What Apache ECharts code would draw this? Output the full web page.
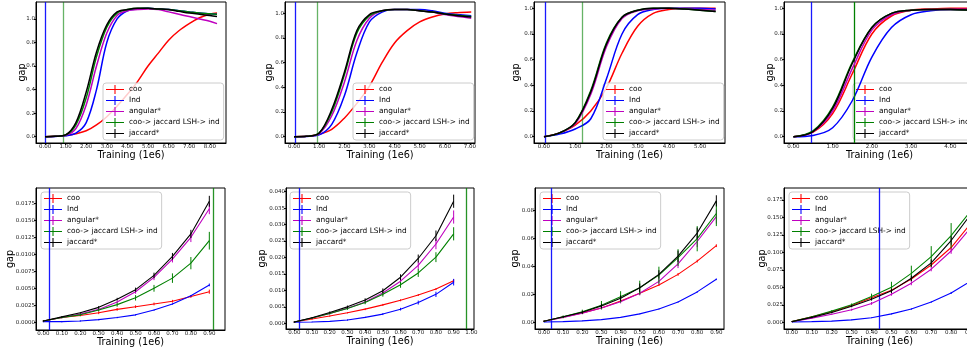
<!DOCTYPE html>
<html>
<head>
<meta charset="utf-8">
<script src="https://cdn.jsdelivr.net/npm/echarts@6/dist/echarts.min.js"></script>
<style>
  html, body { margin: 0; padding: 0; background: #fff; }
  #chart { width: 967px; height: 349px; }
</style>
</head>
<body>
<div id="chart"></div>
<script>
// ── series names / colours (matplotlib r, b, m, g, k) ──
const NAMES  = ['coo', 'Ind', 'angular*', 'coo-> jaccard LSH-> ind', 'jaccard*'];
const COLORS = ['#ff0000', '#0000ff', '#bf00bf', '#008000', '#000000'];

// ── top row: full training curves ──
const top1X   = [0, 0.5, 1, 1.5, 2, 2.5, 3, 3.5, 4, 4.5, 5, 5.5, 6, 6.5, 7, 7.5, 8, 8.35];
const top1Coo = [0, 0.004, 0.01, 0.025, 0.05, 0.1, 0.17, 0.26, 0.36, 0.47, 0.6, 0.71, 0.82, 0.9, 0.96, 1.01, 1.04, 1.05];
const top1Ind = [0, 0.002, 0.008, 0.03, 0.12, 0.4, 0.8, 1.0, 1.07, 1.085, 1.09, 1.085, 1.08, 1.07, 1.06, 1.05, 1.045, 1.04];
const top1Ang = [0, 0.003, 0.012, 0.07, 0.27, 0.6, 0.88, 1.03, 1.07, 1.08, 1.085, 1.08, 1.06, 1.04, 1.02, 1.0, 0.98, 0.96];
const top1Lsh = [0, 0.003, 0.014, 0.1, 0.33, 0.68, 0.93, 1.05, 1.08, 1.09, 1.09, 1.085, 1.08, 1.07, 1.06, 1.05, 1.045, 1.04];
const top1Jac = [0, 0.003, 0.016, 0.12, 0.38, 0.72, 0.95, 1.06, 1.08, 1.09, 1.09, 1.085, 1.08, 1.065, 1.05, 1.04, 1.03, 1.02];

const top2X   = [0, 0.5, 1, 1.5, 2, 2.5, 3, 3.5, 4, 4.5, 5, 5.5, 6, 6.5, 7.05];
const top2Coo = [0, 0.003, 0.02, 0.06, 0.15, 0.27, 0.41, 0.6, 0.76, 0.86, 0.93, 0.97, 0.995, 1.005, 1.01];
const top2Ind = [0, 0.002, 0.015, 0.1, 0.33, 0.68, 0.93, 1.01, 1.03, 1.03, 1.03, 1.02, 1.0, 0.99, 0.98];
const top2Ang = [0, 0.003, 0.025, 0.17, 0.44, 0.78, 0.96, 1.02, 1.03, 1.03, 1.02, 1.01, 0.99, 0.975, 0.96];
const top2Lsh = [0, 0.003, 0.03, 0.2, 0.5, 0.84, 0.98, 1.02, 1.03, 1.03, 1.02, 1.01, 0.995, 0.985, 0.975];
const top2Jac = [0, 0.003, 0.03, 0.22, 0.52, 0.86, 0.99, 1.02, 1.03, 1.03, 1.02, 1.01, 0.995, 0.98, 0.97];

const top3X   = [0, 0.5, 1, 1.5, 2, 2.5, 3, 3.5, 4, 4.5, 5, 5.5];
const top3Coo = [0, 0.03, 0.09, 0.2, 0.38, 0.65, 0.86, 0.96, 0.99, 1.0, 1.0, 1.0];
const top3Ind = [0, 0.02, 0.06, 0.14, 0.45, 0.8, 0.95, 0.99, 1.0, 1.0, 1.0, 0.995];
const top3Ang = [0, 0.03, 0.1, 0.33, 0.7, 0.92, 0.98, 0.995, 1.0, 0.995, 0.99, 0.985];
const top3Lsh = [0, 0.03, 0.11, 0.36, 0.73, 0.93, 0.985, 1.0, 1.0, 0.995, 0.985, 0.975];
const top3Jac = [0, 0.03, 0.11, 0.35, 0.72, 0.93, 0.985, 1.0, 1.0, 0.995, 0.985, 0.975];

const top4X   = [0, 0.5, 1, 1.5, 2, 2.5, 3, 3.5, 4, 4.5];
const top4Coo = [0, 0.035, 0.18, 0.49, 0.8, 0.94, 0.985, 0.995, 1.0, 1.0];
const top4Ind = [0, 0.01, 0.07, 0.28, 0.62, 0.85, 0.95, 0.98, 0.99, 0.99];
const top4Ang = [0, 0.04, 0.2, 0.53, 0.83, 0.95, 0.985, 0.99, 0.99, 0.99];
const top4Lsh = [0, 0.045, 0.23, 0.58, 0.85, 0.96, 0.985, 0.99, 0.99, 0.985];
const top4Jac = [0, 0.04, 0.22, 0.57, 0.85, 0.96, 0.985, 0.99, 0.99, 0.985];

// ── bottom row: early training, with error bars ──
const botX = [0, 0.1, 0.2, 0.3, 0.4, 0.5, 0.6, 0.7, 0.8, 0.9];

const bot1Coo = [0.0002, 0.0007, 0.001, 0.0014, 0.0019, 0.0023, 0.0027, 0.0031, 0.0038, 0.0045];
const bot1Ind = [0.0001, 0.0001, 0.0002, 0.0004, 0.0007, 0.0011, 0.0018, 0.0027, 0.0039, 0.0055];
const bot1Ang = [0.0002, 0.0007, 0.0012, 0.0019, 0.003, 0.0045, 0.0066, 0.0093, 0.0125, 0.0167];
const bot1Lsh = [0.0002, 0.0007, 0.0011, 0.0018, 0.0026, 0.0036, 0.005, 0.0065, 0.0087, 0.012];
const bot1Jac = [0.0002, 0.0008, 0.0014, 0.0022, 0.0034, 0.0048, 0.0069, 0.0097, 0.013, 0.0178];
const bot1CooErr = [0.0001, 0.0001, 0.0001, 0.0002, 0.0002, 0.0002, 0.0002, 0.0002, 0.0002, 0.0003];
const bot1IndErr = [0.0001, 0.0001, 0.0001, 0.0001, 0.0001, 0.0001, 0.0001, 0.0001, 0.0001, 0.0002];
const bot1AngErr = [0.0001, 0.0001, 0.0001, 0.0002, 0.0002, 0.0003, 0.0004, 0.0005, 0.0007, 0.0008];
const bot1LshErr = [0.0001, 0.0001, 0.0002, 0.0002, 0.0003, 0.0004, 0.0005, 0.0007, 0.0009, 0.0013];
const bot1JacErr = [0.0001, 0.0001, 0.0001, 0.0002, 0.0002, 0.0003, 0.0004, 0.0005, 0.0006, 0.0008];

const bot2Coo = [0.0004, 0.0013, 0.0022, 0.0032, 0.0043, 0.0056, 0.007, 0.0086, 0.0104, 0.0129];
const bot2Ind = [0.0003, 0.0004, 0.0006, 0.001, 0.0018, 0.0028, 0.0043, 0.0063, 0.0088, 0.0125];
const bot2Ang = [0.0004, 0.0016, 0.003, 0.0046, 0.0065, 0.0092, 0.0128, 0.0176, 0.0241, 0.0323];
const bot2Lsh = [0.0004, 0.0016, 0.003, 0.0045, 0.0063, 0.0088, 0.0117, 0.0153, 0.0201, 0.0272];
const bot2Jac = [0.0004, 0.0017, 0.0033, 0.005, 0.0071, 0.0099, 0.014, 0.0197, 0.0266, 0.0371];
const bot2CooErr = [0.0002, 0.0002, 0.0002, 0.0002, 0.0003, 0.0003, 0.0003, 0.0003, 0.0003, 0.0005];
const bot2IndErr = [0.0001, 0.0001, 0.0001, 0.0002, 0.0002, 0.0003, 0.0004, 0.0006, 0.0008, 0.001];
const bot2AngErr = [0.0002, 0.0002, 0.0003, 0.0004, 0.0005, 0.0007, 0.0009, 0.0012, 0.0016, 0.002];
const bot2LshErr = [0.0002, 0.0002, 0.0003, 0.0004, 0.0005, 0.0007, 0.0009, 0.0012, 0.0015, 0.002];
const bot2JacErr = [0.0002, 0.0002, 0.0003, 0.0004, 0.0005, 0.0007, 0.0009, 0.0012, 0.0016, 0.002];

const bot3Coo = [0.001, 0.004, 0.007, 0.0105, 0.0155, 0.021, 0.027, 0.0345, 0.044, 0.055];
const bot3Ind = [0.0005, 0.0008, 0.0013, 0.0022, 0.0038, 0.0063, 0.0098, 0.0148, 0.022, 0.031];
const bot3Ang = [0.001, 0.0038, 0.0068, 0.0105, 0.015, 0.021, 0.0295, 0.042, 0.058, 0.0758];
const bot3Lsh = [0.001, 0.0042, 0.0078, 0.0125, 0.0185, 0.025, 0.034, 0.0465, 0.06, 0.078];
const bot3Jac = [0.001, 0.0042, 0.0075, 0.012, 0.0175, 0.025, 0.0345, 0.0475, 0.064, 0.087];
const bot3CooErr = [0.0005, 0.0005, 0.0005, 0.0006, 0.0007, 0.0008, 0.0008, 0.001, 0.001, 0.001];
const bot3IndErr = [0.0002, 0.0002, 0.0002, 0.0002, 0.0003, 0.0003, 0.0004, 0.0004, 0.0005, 0.0006];
const bot3AngErr = [0.0005, 0.0005, 0.0008, 0.001, 0.0012, 0.0015, 0.002, 0.003, 0.004, 0.005];
const bot3LshErr = [0.0005, 0.001, 0.0015, 0.003, 0.004, 0.005, 0.006, 0.006, 0.009, 0.009];
const bot3JacErr = [0.0005, 0.0005, 0.001, 0.0015, 0.002, 0.003, 0.003, 0.004, 0.004, 0.004];

const bot4Coo = [0.001, 0.008, 0.015, 0.024, 0.035, 0.046, 0.062, 0.082, 0.107, 0.142];
const bot4Ind = [0.0005, 0.001, 0.0017, 0.0035, 0.0065, 0.012, 0.019, 0.029, 0.042, 0.059];
const bot4Ang = [0.0008, 0.006, 0.0115, 0.018, 0.027, 0.04, 0.056, 0.076, 0.102, 0.136];
const bot4Lsh = [0.001, 0.008, 0.016, 0.025, 0.037, 0.05, 0.07, 0.094, 0.124, 0.16];
const bot4Jac = [0.001, 0.007, 0.014, 0.023, 0.033, 0.045, 0.063, 0.085, 0.117, 0.155];
const bot4CooErr = [0.0005, 0.001, 0.001, 0.0015, 0.002, 0.002, 0.003, 0.003, 0.004, 0.005];
const bot4IndErr = [0.0003, 0.0003, 0.0003, 0.0005, 0.0005, 0.0008, 0.001, 0.001, 0.0015, 0.002];
const bot4AngErr = [0.0005, 0.001, 0.001, 0.0015, 0.002, 0.002, 0.003, 0.003, 0.004, 0.005];
const bot4LshErr = [0.0005, 0.001, 0.0015, 0.002, 0.004, 0.008, 0.011, 0.015, 0.018, 0.022];
const bot4JacErr = [0.0005, 0.001, 0.001, 0.0015, 0.002, 0.003, 0.004, 0.005, 0.006, 0.008];

// vertical marker lines (blue = Ind, green = LSH), one per panel
const indCut = [0.02, 0.05, 0.04, 0.45, 0.033, 0.028, 0.035, 0.44];
const lshCut = [0.89, 0.94, 1.21, 1.56, 0.918, 0.966, null, null];

// ── tick labels ──
const top1XTicks = [0, 1, 2, 3, 4, 5, 6, 7, 8];
const top2XTicks = [0, 1, 2, 3, 4, 5, 6, 7];
const top3XTicks = [0, 1, 2, 3, 4, 5];
const top4XTicks = [0, 1, 2, 3, 4];
const topYTicks  = [0, 0.2, 0.4, 0.6, 0.8, 1.0];
const bot1XTicks = [0, 0.1, 0.2, 0.3, 0.4, 0.5, 0.6, 0.7, 0.8, 0.9];
const bot2XTicks = [0, 0.1, 0.2, 0.3, 0.4, 0.5, 0.6, 0.7, 0.8, 0.9, 1.0];
const bot1YTicks = [0, 0.0025, 0.005, 0.0075, 0.01, 0.0125, 0.015, 0.0175];
const bot2YTicks = [0, 0.005, 0.01, 0.015, 0.02, 0.025, 0.03, 0.035, 0.04];
const bot3YTicks = [0, 0.02, 0.04, 0.06, 0.08];
const bot4YTicks = [0, 0.025, 0.05, 0.075, 0.1, 0.125, 0.15, 0.175];

const FONT = 'DejaVu Sans';
const PLUS = 'path://M0,4.4H20V5.6H0Z M9.4,0H10.6V10H9.4Z';

// layout of each subplot: rect = [left, top, width, height]
const panels = [
  { x: top1X, ys: [top1Coo, top1Ind, top1Ang, top1Lsh, top1Jac], xr: [-0.437, 8.786], yr: [-0.0535, 1.144],
    xt: top1XTicks, yt: topYTicks, xdp: 2, ydp: 1, rect: [36, 2, 190, 141], yGap: 9, leg: [103, 83], gOp: 0.6 },
  { x: top2X, ys: [top2Coo, top2Ind, top2Ang, top2Lsh, top2Jac], xr: [-0.36, 7.2], yr: [-0.051, 1.0916],
    xt: top2XTicks, yt: topYTicks, xdp: 2, ydp: 1, rect: [285, 2, 190, 141], yGap: 11, leg: [353, 83], gOp: 0.6 },
  { x: top3X, ys: [top3Coo, top3Ind, top3Ang, top3Lsh, top3Jac], xr: [-0.32, 5.8], yr: [-0.049, 1.049],
    xt: top3XTicks, yt: topYTicks, xdp: 2, ydp: 1, rect: [534, 2, 191, 141], yGap: 13, leg: [603, 83], gOp: 0.6 },
  { x: top4X, ys: [top4Coo, top4Ind, top4Ang, top4Lsh, top4Jac], xr: [-0.24, 4.63], yr: [-0.049, 1.049],
    xt: top4XTicks, yt: topYTicks, xdp: 2, ydp: 1, rect: [784, 2, 191, 141], yGap: 9, leg: [853, 83], gOp: 1 },
  { x: botX, ys: [bot1Coo, bot1Ind, bot1Ang, bot1Lsh, bot1Jac], err: [bot1CooErr, bot1IndErr, bot1AngErr, bot1LshErr, bot1JacErr],
    xr: [-0.04, 0.985], yr: [-0.00113, 0.01975], xt: bot1XTicks, yt: bot1YTicks, xdp: 2, ydp: 4,
    rect: [36, 188, 189, 142], yGap: 21, leg: [41, 192], gOp: 0.85 },
  { x: botX, ys: [bot2Coo, bot2Ind, bot2Ang, bot2Lsh, bot2Jac], err: [bot2CooErr, bot2IndErr, bot2AngErr, bot2LshErr, bot2JacErr],
    xr: [-0.047, 1.015], yr: [-0.00173, 0.04112], xt: bot2XTicks, yt: bot2YTicks, xdp: 2, ydp: 3,
    rect: [286, 188, 188, 141], yGap: 19, leg: [290, 192], gOp: 0.85 },
  { x: botX, ys: [bot3Coo, bot3Ind, bot3Ang, bot3Lsh, bot3Jac], err: [bot3CooErr, bot3IndErr, bot3AngErr, bot3LshErr, bot3JacErr],
    xr: [-0.047, 0.94], yr: [-0.0045, 0.0962], xt: bot1XTicks, yt: bot3YTicks, xdp: 2, ydp: 2,
    rect: [535, 188, 189, 141], yGap: 15, leg: [540, 192], gOp: 0.85 },
  { x: botX, ys: [bot4Coo, bot4Ind, bot4Ang, bot4Lsh, bot4Jac], err: [bot4CooErr, bot4IndErr, bot4AngErr, bot4LshErr, bot4JacErr],
    xr: [-0.04, 0.92], yr: [-0.0096, 0.1922], xt: bot1XTicks, yt: bot4YTicks, xdp: 2, ydp: 3,
    rect: [784, 188, 191, 141], yGap: 17, leg: [789, 192], gOp: 0.85 },
];

const grid = [], xAxis = [], yAxis = [], series = [], legend = [];

panels.forEach((p, i) => {
  const isTop = !p.err;
  grid.push({
    left: p.rect[0], top: p.rect[1], width: p.rect[2], height: p.rect[3],
    show: true, borderColor: '#000', borderWidth: 1, backgroundColor: '#fff',
    containLabel: false, outerBoundsMode: 'none',
  });
  const axisCommon = {
    gridIndex: i, type: 'value',
    axisLine: { show: true, onZero: false, lineStyle: { color: '#000', width: 1 } },
    splitLine: { show: false },
    nameLocation: 'middle',
    nameMoveOverlap: false,
    nameTextStyle: { fontSize: 9.7, color: '#000', fontFamily: FONT },
  };
  xAxis.push({
    ...axisCommon,
    min: p.xr[0], max: p.xr[1],
    axisTick: { show: true, length: 2, customValues: p.xt, lineStyle: { color: '#000' } },
    axisLabel: { customValues: p.xt, formatter: v => v.toFixed(p.xdp), fontSize: 5.5, color: '#222', margin: 1, fontFamily: FONT },
    name: 'Training (1e6)', nameGap: 7,
  });
  yAxis.push({
    ...axisCommon,
    min: p.yr[0], max: p.yr[1],
    axisTick: { show: true, length: 2, customValues: p.yt, lineStyle: { color: '#000' } },
    axisLabel: { customValues: p.yt, formatter: v => v.toFixed(p.ydp), fontSize: 5.5, color: '#222', margin: 1, fontFamily: FONT },
    name: 'gap', nameGap: p.yGap,
  });

  NAMES.forEach((name, k) => {
    const color = COLORS[k];
    const s = {
      type: 'line', name, xAxisIndex: i, yAxisIndex: i,
      data: p.x.map((xv, j) => [xv, p.ys[k][j]]),
      symbol: 'none', showSymbol: false,
      smooth: isTop ? 0.35 : false,
      lineStyle: { color, width: isTop ? 1.5 : 1.1 },
      itemStyle: { color },
      z: 3 + k,
    };
    // vertical markers ride on the Ind / LSH series
    const cut = k === 1 ? indCut[i] : k === 3 ? lshCut[i] : null;
    if (cut != null) {
      s.markLine = {
        silent: true, symbol: ['none', 'none'], label: { show: false },
        lineStyle: { color, width: 1.3, type: 'solid', opacity: k === 3 ? p.gOp : 0.9 },
        data: [{ xAxis: cut }],
      };
    }
    series.push(s);

    if (!isTop) {
      series.push({
        type: 'custom', name, xAxisIndex: i, yAxisIndex: i, clip: true, z: 3 + k,
        itemStyle: { color },
        data: p.x.map((xv, j) => [xv, p.ys[k][j], p.err[k][j]]),
        renderItem: (params, api) => {
          const a = api.coord([api.value(0), api.value(1) - api.value(2)]);
          const b = api.coord([api.value(0), api.value(1) + api.value(2)]);
          return {
            type: 'line',
            shape: { x1: a[0], y1: a[1], x2: b[0], y2: b[1] },
            style: { stroke: color, lineWidth: 1 },
          };
        },
      });
    }
  });

  legend.push({
    orient: 'vertical', left: p.leg[0], top: p.leg[1],
    itemWidth: 18, itemHeight: 9, itemGap: 2,
    padding: [2, 4, 2, 3],
    backgroundColor: 'rgba(255,255,255,0.8)', borderColor: '#cccccc', borderWidth: 1, borderRadius: 3,
    textStyle: { fontSize: 7.4, color: '#000', fontFamily: FONT },
    selectedMode: false,
    data: NAMES.map(n => ({ name: n, icon: PLUS })),
  });
});

const chart = echarts.init(document.getElementById('chart'), null, { renderer: 'canvas' });
chart.setOption({
  animation: false,
  backgroundColor: '#fff',
  textStyle: { fontFamily: FONT },
  grid, xAxis, yAxis, series, legend,
});
</script>
</body>
</html>
